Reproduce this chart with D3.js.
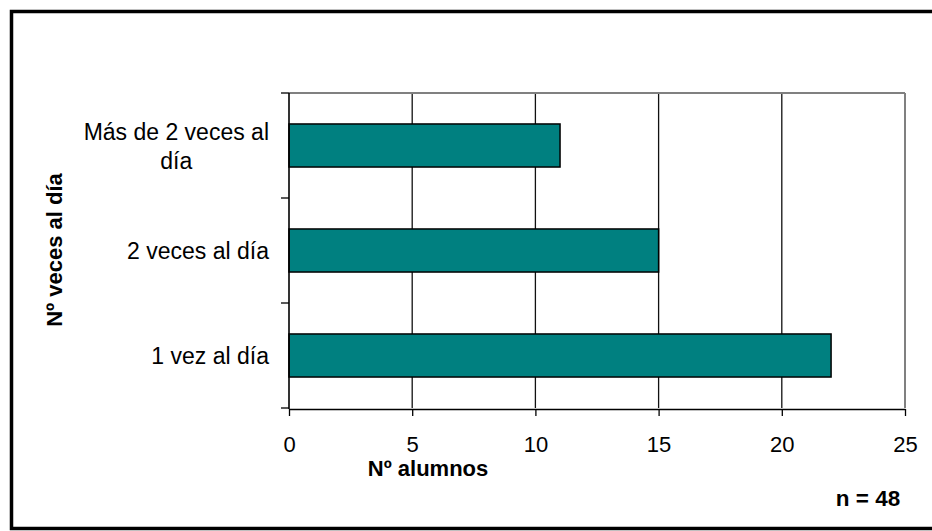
<!DOCTYPE html>
<html>
<head>
<meta charset="utf-8">
<script src="https://cdn.jsdelivr.net/npm/d3@7"></script>
<style>
  html, body { margin: 0; padding: 0; background: #fff; }
  svg { display: block; font-family: "Liberation Sans", Arial, sans-serif; }
</style>
</head>
<body>
<svg id="chart" width="932" height="531"></svg>
<script>
// Frequency categories, top to bottom (each entry is the lines of its label)
const categories = [
  ["Más de 2 veces al", "día"],
  ["2 veces al día"],
  ["1 vez al día"]
];
// Number of students in each category
const counts = [11, 15, 22];
// Value-axis ticks
const xTicks = [0, 5, 10, 15, 20, 25];
const xTitle = "Nº alumnos";
const yTitle = "Nº veces al día";
const note = "n = 48";

const svg = d3.select("#chart");
const margin = { left: 289, right: 905, top: 93, bottom: 408 };

// Outer frame
svg.append("rect")
  .attr("x", 11.5).attr("y", 11.5)
  .attr("width", 940).attr("height", 517)
  .attr("fill", "none").attr("stroke", "#000").attr("stroke-width", 3.5);

const x = d3.scaleLinear().domain([0, 25]).range([margin.left, margin.right]);
const y = d3.scaleBand().domain(d3.range(categories.length))
  .range([margin.top, margin.bottom]).padding(0);

// Vertical gridlines
svg.append("g").selectAll("line")
  .data(xTicks.filter(t => t > 0 && t < 25))
  .join("line")
  .attr("x1", d => x(d)).attr("x2", d => x(d))
  .attr("y1", margin.top).attr("y2", margin.bottom)
  .attr("stroke", "#111").attr("stroke-width", 1.3);

// Plot area border (top and right in grey)
svg.append("line")
  .attr("x1", margin.left).attr("x2", margin.right)
  .attr("y1", margin.top).attr("y2", margin.top)
  .attr("stroke", "#808080").attr("stroke-width", 2);
svg.append("line")
  .attr("x1", margin.right).attr("x2", margin.right)
  .attr("y1", margin.top).attr("y2", margin.bottom)
  .attr("stroke", "#808080").attr("stroke-width", 2);

// Bars
const barFrac = 0.41;
svg.append("g").selectAll("rect")
  .data(counts)
  .join("rect")
  .attr("x", x(0))
  .attr("y", (d, i) => y(i) + y.bandwidth() * (1 - barFrac) / 2)
  .attr("width", d => x(d) - x(0))
  .attr("height", y.bandwidth() * barFrac)
  .attr("fill", "#008080")
  .attr("stroke", "#000").attr("stroke-width", 1.5);

// X axis
const xAxis = svg.append("g")
  .attr("transform", `translate(0,${margin.bottom + 1})`)
  .call(d3.axisBottom(x).tickValues(xTicks).tickSize(7).tickPadding(20).tickSizeOuter(0));
xAxis.select(".domain").attr("stroke", "#000").attr("stroke-width", 1.6);
xAxis.selectAll(".tick line").attr("stroke", "#000").attr("stroke-width", 1.3);
xAxis.selectAll(".tick text")
  .attr("font-size", 22).attr("fill", "#000")
  .attr("font-family", "Liberation Sans, Arial, sans-serif");

// Y axis: line and ticks at category boundaries
svg.append("line")
  .attr("x1", margin.left).attr("x2", margin.left)
  .attr("y1", margin.top).attr("y2", margin.bottom + 1)
  .attr("stroke", "#000").attr("stroke-width", 1.6);
const bounds = d3.range(categories.length + 1).map(i => margin.top + i * y.step());
svg.append("g").selectAll("line")
  .data(bounds)
  .join("line")
  .attr("x1", margin.left - 8).attr("x2", margin.left)
  .attr("y1", d => d).attr("y2", d => d)
  .attr("stroke", "#000").attr("stroke-width", 1.3);

// Category labels (multi-line labels centred on their widest line)
const labelRight = 269;
const lineH = 29;
categories.forEach((lines, i) => {
  const cy = y(i) + y.bandwidth() / 2;
  const g = svg.append("g");
  const texts = lines.map((ln, k) => g.append("text")
    .attr("font-size", 23).attr("fill", "#000")
    .attr("y", cy + (k - (lines.length - 1) / 2) * lineH)
    .attr("dy", "0.38em")
    .text(ln));
  const widths = texts.map(t => t.node().getComputedTextLength());
  const maxW = d3.max(widths);
  texts.forEach((t, k) => {
    t.attr("x", labelRight - maxW + (maxW - widths[k]) / 2);
  });
});

// Axis titles
svg.append("text")
  .attr("x", 428).attr("y", 476)
  .attr("text-anchor", "middle")
  .attr("font-size", 22).attr("font-weight", "bold")
  .text(xTitle);

svg.append("text")
  .attr("transform", "translate(62,250) rotate(-90)")
  .attr("text-anchor", "middle")
  .attr("font-size", 22).attr("font-weight", "bold")
  .text(yTitle);

svg.append("text")
  .attr("x", 868).attr("y", 506)
  .attr("text-anchor", "middle")
  .attr("font-size", 22.5).attr("font-weight", "bold")
  .text(note);
</script>
</body>
</html>
